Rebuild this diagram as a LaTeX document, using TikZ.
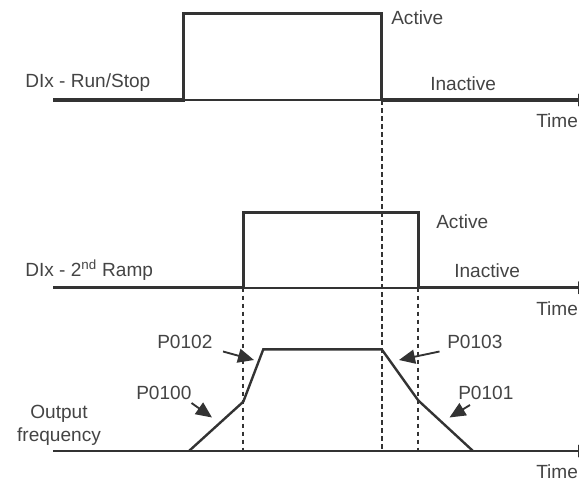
\documentclass[tikz,border=0pt]{standalone}
\usepackage{fontspec}
\setmainfont{Liberation Sans}
\usetikzlibrary{arrows.meta}
\definecolor{ink}{HTML}{333333}
\definecolor{txt}{HTML}{444444}
\begin{document}
\begin{tikzpicture}[x=0.75pt,y=-0.75pt,
  lbl/.style={font=\fontsize{14.3}{17}\selectfont, text=txt, inner sep=0pt, anchor=west},
  sigthick/.style={draw=ink, line width=2.4pt, line join=miter},
  sigthin/.style={draw=ink, line width=1.2pt},
  axisarrow/.style={-{Triangle[length=9pt,width=9pt]}},
  guide/.style={draw=ink, line width=1.3pt, dash pattern=on 3.5pt off 2.5pt},
  rampline/.style={draw=ink, line width=1.8pt, line join=miter},
  pointer/.style={draw=ink, line width=1.4pt, -{Triangle[length=12pt,width=10.5pt]}}
]
\useasboundingbox (0,0) rectangle (579,482);

% ---------- guides ----------
\coordinate (g1t) at (381.7,100);  \coordinate (g1b) at (381.7,451);
\coordinate (g2t) at (243.3,287.7); \coordinate (g2b) at (243.3,451);
\coordinate (g3t) at (418.3,287.7); \coordinate (g3b) at (418.3,451);
\draw[guide] (g1t) -- (g1b);
\draw[guide] (g2t) -- (g2b);
\draw[guide] (g3t) -- (g3b);

% ---------- Run/Stop ----------
\coordinate (a0) at (53,100);
\coordinate (a1) at (183.5,100);
\coordinate (a2) at (183.5,13.5);
\coordinate (a3) at (381.7,13.5);
\coordinate (a4) at (381.7,100);
\coordinate (aend) at (590,100);
\draw[sigthin] (a1) -- (a4);
\draw[sigthick] (a0) -- (a1) -- (a2) -- (a3) -- (a4);
\draw[sigthick, axisarrow] (a4) -- (aend);

\node[lbl] (runstop) at (25,83) {DIx - Run/Stop};
\node[lbl] (act1) at (391,18) {Active};
\node[lbl] (inact1) at (430,84) {Inactive};
\node[lbl] (time1) at (536,121) {Time};

% ---------- 2nd Ramp ----------
\coordinate (b0) at (53,287.7);
\coordinate (b1) at (243.3,287.7);
\coordinate (b2) at (243.3,212.7);
\coordinate (b3) at (418.3,212.7);
\coordinate (b4) at (418.3,287.7);
\coordinate (bend) at (590,287.7);
\draw[sigthin] (b1) -- (b4);
\draw[sigthick] (b0) -- (b1) -- (b2) -- (b3) -- (b4);
\draw[sigthick, axisarrow] (b4) -- (bend);

\node[lbl] (ramp2) at (25,270) {DIx - 2\textsuperscript{nd} Ramp};
\node[lbl] (act2) at (436,222) {Active};
\node[lbl] (inact2) at (454,271) {Inactive};
\node[lbl] (time2) at (536,309) {Time};

% ---------- Output frequency ----------
\coordinate (c0) at (53,451);
\coordinate (c1) at (189,451);
\coordinate (c2) at (243.3,401.7);
\coordinate (c3) at (263.3,349.3);
\coordinate (c4) at (381.7,349.3);
\coordinate (c5) at (418.3,400.5);
\coordinate (c6) at (473,451);
\coordinate (cend) at (590,451);
\draw[sigthick, line width=2pt, axisarrow] (c0) -- (cend);
\draw[rampline] (c1) -- (c2) -- (c3) -- (c4) -- (c5) -- (c6);

\node[lbl, anchor=center, align=center] (outf) at (59,425) {Output\\frequency};
\node[lbl] (time3) at (536,472) {Time};

\node[lbl] (l102) at (157,342) {P0102};
\node[lbl] (l100) at (136,393) {P0100};
\node[lbl] (l103) at (447,342) {P0103};
\node[lbl] (l101) at (458,393) {P0101};

\coordinate (p102s) at (223,351.5); \coordinate (p102e) at (254,360);
\coordinate (p100s) at (191.5,403);  \coordinate (p100e) at (212,417.5);
\coordinate (p103s) at (439.5,351.5); \coordinate (p103e) at (399,360);
\coordinate (p101s) at (470,405);   \coordinate (p101e) at (449.5,417.5);
\draw[pointer] (p102s) -- (p102e);
\draw[pointer] (p100s) -- (p100e);
\draw[pointer] (p103s) -- (p103e);
\draw[pointer] (p101s) -- (p101e);
\end{tikzpicture}
\end{document}
